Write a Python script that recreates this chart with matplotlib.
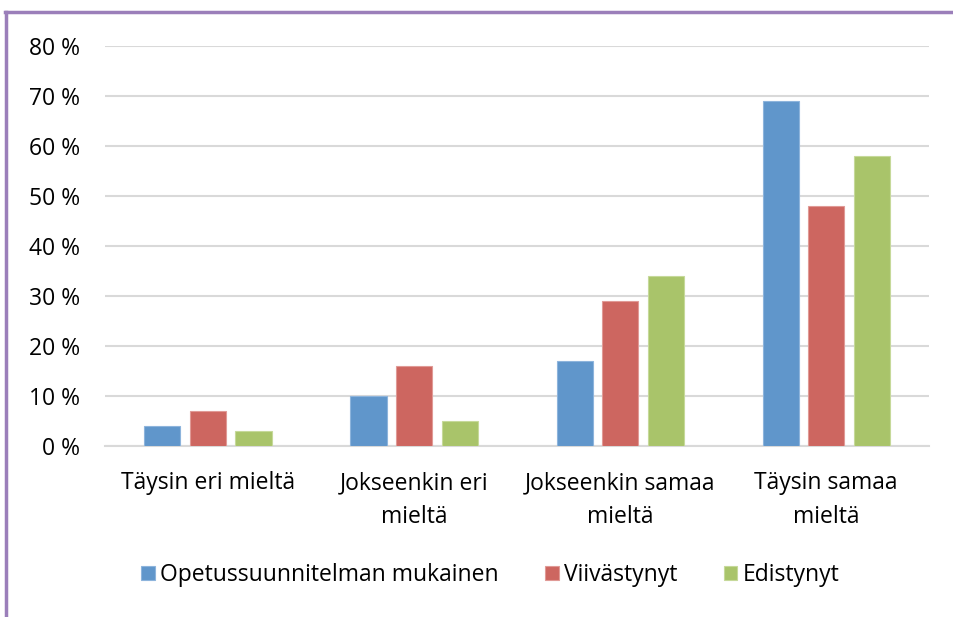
import numpy as np
import matplotlib.pyplot as plt
from matplotlib.lines import Line2D

categories = ['Täysin eri mieltä', 'Jokseenkin eri\nmieltä',
              'Jokseenkin samaa\nmieltä', 'Täysin samaa\nmieltä']
series_names = ['Opetussuunnitelman mukainen', 'Viivästynyt', 'Edistynyt']
opetus = [4, 10, 17, 69]
viivastynyt = [7, 16, 29, 48]
edistynyt = [3, 5, 34, 58]
yticks = [0, 10, 20, 30, 40, 50, 60, 70, 80]

colors = ['#6096CB', '#CD6660', '#A9C46A']
edges = ['#8DB4DC', '#E09A96', '#C6D99A']

plt.rcParams['font.family'] = ['Open Sans', 'DejaVu Sans']
fs = 16.5

fig = plt.figure(figsize=(9.54, 6.17), dpi=100)
ax = fig.add_axes([0.110, 0.277, 0.864, 0.648])

x = np.arange(len(categories))
w = 0.175
step = 0.221
for i, (vals, name) in enumerate(zip([opetus, viivastynyt, edistynyt], series_names)):
    ax.bar(x + (i - 1) * step, vals, width=w, color=colors[i],
           edgecolor=edges[i], linewidth=0.8, label=name, zorder=3)

ax.set_xlim(-0.5, len(categories) - 0.5)
ax.set_ylim(0, 80)
ax.set_yticks(yticks)
ax.set_yticklabels([f'{t} %' for t in yticks])
ax.set_xticks(x)
ax.set_xticklabels(categories, linespacing=1.55)
ax.tick_params(axis='y', length=0, pad=18, labelsize=fs, colors='black')
ax.tick_params(axis='x', length=0, pad=18, labelsize=fs)
ax.grid(axis='y', color='#D9D9D9', linewidth=1.5, zorder=0)
for s in ['top', 'right', 'left']:
    ax.spines[s].set_visible(False)
ax.spines['bottom'].set_color('#D9D9D9')
ax.spines['bottom'].set_linewidth(1.5)

fig.legend(loc='center', bbox_to_anchor=(0.514, 0.068), ncol=3, frameon=False,
           fontsize=fs, handlelength=0.6, handleheight=0.6, handletextpad=0.25,
           columnspacing=2.0)

# purple frame on the left and top
border = '#9B7FBA'
fig.add_artist(Line2D([6.5 / 954, 6.5 / 954], [0, 1 - 11.5 / 617],
                      transform=fig.transFigure, color=border, linewidth=2.5))
fig.add_artist(Line2D([5.5 / 954, 1], [1 - 11.5 / 617, 1 - 11.5 / 617],
                      transform=fig.transFigure, color=border, linewidth=2.5))

fig.savefig('out.png', dpi=100)
